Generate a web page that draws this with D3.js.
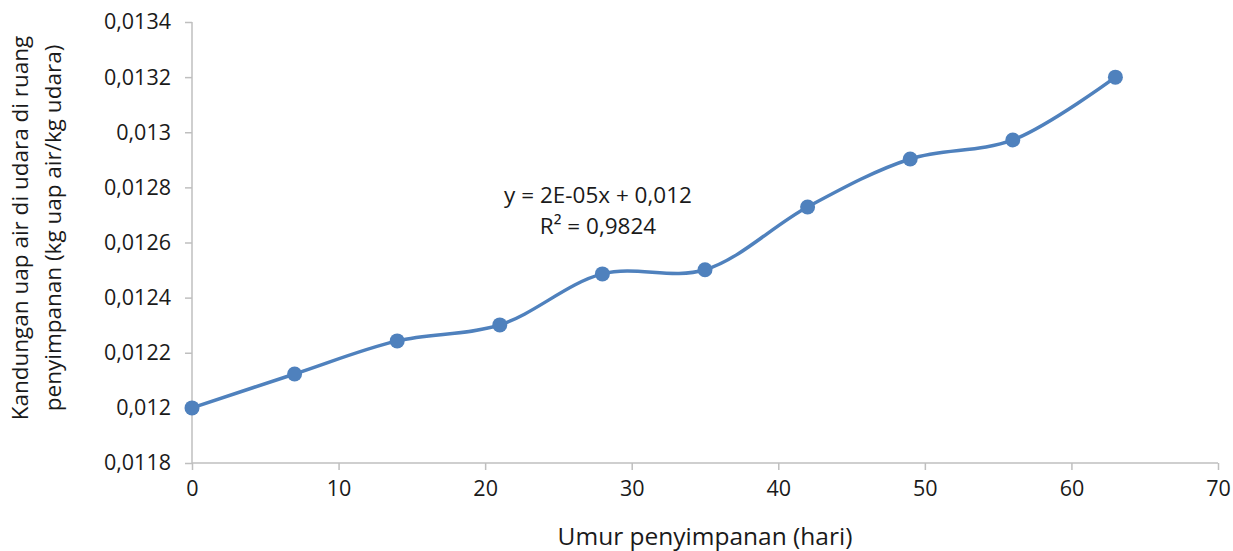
<!DOCTYPE html>
<html><head><meta charset="utf-8">
<script src="https://cdn.jsdelivr.net/npm/d3@7"></script>
<style>body{margin:0;background:#fff;} svg{display:block;font-family:"Open Sans",sans-serif;}</style>
</head><body>
<svg id="c" width="1233" height="551"></svg>
<script>
const days = [0, 7, 14, 21, 28, 35, 42, 49, 56, 63];
const moisture = [0.0120, 0.012123, 0.012243, 0.012301, 0.012486, 0.012501, 0.012729, 0.012903, 0.012972, 0.0132];
const yTicks = [0.0118, 0.012, 0.0122, 0.0124, 0.0126, 0.0128, 0.013, 0.0132, 0.0134];
const xTicks = [0, 10, 20, 30, 40, 50, 60, 70];
const eqLines = ["y = 2E-05x + 0,012", "R² = 0,9824"];
const xTitle = "Umur penyimpanan (hari)";
const yTitleLines = ["Kandungan uap air di udara di ruang", "penyimpanan (kg uap air/kg udara)"];

const svg = d3.select("#c");
const L = 192, R = 1218, T = 22, B = 463;
const FONT = "'Open Sans',sans-serif";
const x = d3.scaleLinear().domain([0, 70]).range([L, R]);
const y = d3.scaleLinear().domain([0.0118, 0.0134]).range([B, T]);
const fmt = d => String(+d.toFixed(4)).replace(".", ",");
const axisCol = "#bfbfbf", textCol = "#1a1a1a";

const gx = svg.append("g").attr("transform", `translate(0,${B})`)
  .call(d3.axisBottom(x).tickValues(xTicks).tickSize(7).tickPadding(11).tickFormat(d => d));
const gy = svg.append("g").attr("transform", `translate(${L},0)`)
  .call(d3.axisLeft(y).tickValues(yTicks).tickSize(7).tickPadding(14).tickFormat(fmt));
[gx, gy].forEach(g => {
  g.selectAll("path,line").attr("stroke", axisCol).attr("stroke-width", 1.5);
  g.select(".domain").attr("d", g === gx ? `M${L},0H${R}` : `M0,${T}V${B}`);
  g.selectAll("text").attr("fill", textCol).attr("font-size", 21.5).attr("font-family", FONT);
});

const line = d3.line().x((d, i) => x(days[i])).y(d => y(d)).curve(d3.curveCatmullRom.alpha(0.5));
svg.append("path").datum(moisture).attr("d", line).attr("fill", "none")
  .attr("stroke", "#4f81bd").attr("stroke-width", 3.5);
svg.selectAll("circle.pt").data(moisture).join("circle").attr("class", "pt")
  .attr("cx", (d, i) => x(days[i])).attr("cy", d => y(d)).attr("r", 7.5).attr("fill", "#4f81bd");

svg.append("g").selectAll("text").data(eqLines).join("text")
  .attr("x", 598).attr("y", (d, i) => 203 + i * 31).attr("text-anchor", "middle")
  .attr("font-size", 22.5).attr("fill", textCol).text(d => d);

svg.append("text").attr("x", 705).attr("y", 545).attr("text-anchor", "middle")
  .attr("font-size", 24.5).attr("fill", textCol).text(xTitle);

svg.append("g").selectAll("text").data(yTitleLines).join("text")
  .attr("transform", (d, i) => `translate(${28 + i * 33},${228}) rotate(-90)`)
  .attr("text-anchor", "middle").attr("font-size", 22.5).attr("fill", textCol).text(d => d);
</script>
</body></html>
